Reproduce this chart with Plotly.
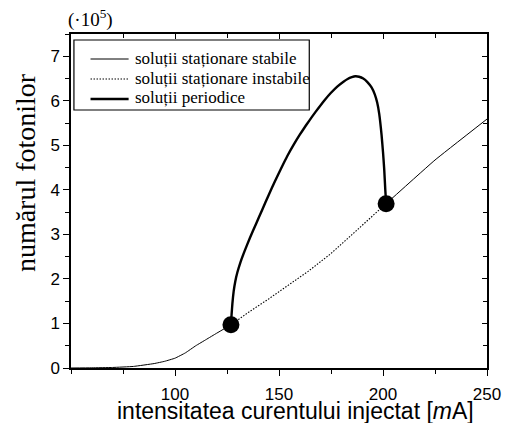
import plotly.graph_objects as go

# --- data (photon number, units of 1e5) ---
stable_low_x = [50, 60, 70, 80, 90, 95, 100, 105, 110, 115, 120, 126.9]
stable_low_y = [0, 0.004, 0.012, 0.035, 0.1, 0.15, 0.22, 0.34, 0.5, 0.64, 0.78, 0.97]
stable_high_x = [201.5, 225, 250]
stable_high_y = [3.69, 4.67, 5.59]

unstable_x = [126.9, 135, 145, 155, 164, 175, 184, 193, 201.5]
unstable_y = [0.97, 1.24, 1.55, 1.88, 2.17, 2.57, 2.95, 3.33, 3.69]

periodic_x = [126.9, 127.2, 127.6, 128.2, 129, 130, 131.5, 133.5, 136, 139, 142, 145,
              148, 151, 154, 157, 160, 163, 166, 169, 172, 175, 178, 181, 183, 185, 186.7,
              188.5, 190.5, 192.5, 194.5, 196, 197.2, 198.2, 199.3, 200, 200.6, 201.1, 201.5]
periodic_y = [0.97, 1.2, 1.45, 1.72, 1.95, 2.15, 2.38, 2.63, 2.92, 3.24, 3.56, 3.88,
              4.19, 4.48, 4.76, 5.01, 5.24, 5.45, 5.65, 5.84, 6.02, 6.18, 6.32, 6.43, 6.49, 6.53, 6.55,
              6.54, 6.5, 6.42, 6.3, 6.15, 5.96, 5.7, 5.24, 4.85, 4.45, 4.0, 3.69]

hopf_x = [126.9, 201.5]
hopf_y = [0.97, 3.69]

x_ticks = [100, 150, 200, 250]
y_ticks = [0, 1, 2, 3, 4, 5, 6, 7]

names = ["soluții staționare stabile", "soluții staționare instabile", "soluții periodice"]
legend_widths = [1.0, 1.1, 2.4]
legend_dashes = ["solid", "1.5px,1.5px", "solid"]

# plot-area pixel geometry helpers (for paper coordinates of the legend/labels)
L, R, T, B = 71, 497, 34, 368
def px(x):
    return (x - L) / (R - L)
def py(y):
    return (B - y) / (B - T)

fig = go.Figure()
fig.add_trace(go.Scatter(
    x=stable_low_x + [None] + stable_high_x,
    y=stable_low_y + [None] + stable_high_y,
    mode="lines", line=dict(color="black", width=1.0, shape="spline", smoothing=0.3),
    name=names[0], connectgaps=False, showlegend=False))
fig.add_trace(go.Scatter(
    x=unstable_x, y=unstable_y, mode="lines",
    line=dict(color="black", width=1.1, dash="1.5px,1.5px"),
    name=names[1], showlegend=False))
fig.add_trace(go.Scatter(
    x=periodic_x, y=periodic_y, mode="lines",
    line=dict(color="black", width=2.4, shape="spline", smoothing=0.4),
    name=names[2], showlegend=False))
fig.add_trace(go.Scatter(
    x=hopf_x, y=hopf_y, mode="markers",
    marker=dict(color="black", size=17), showlegend=False))
# dummy traces to activate mirrored inside-tick axes and the label axis
fig.add_trace(go.Scatter(x=[None], y=[None], xaxis="x2", yaxis="y2",
                         showlegend=False, hoverinfo="skip"))
fig.add_trace(go.Scatter(x=[None], y=[None], xaxis="x3", yaxis="y",
                         showlegend=False, hoverinfo="skip"))

# legend drawn as box + sample lines + text
shapes = [dict(type="rect", xref="paper", yref="paper",
               x0=px(74), x1=px(315), y0=py(110), y1=py(40),
               line=dict(color="black", width=1.2), fillcolor="white", layer="above")]
annotations = []
row_y = [59, 79, 99]
for i, name in enumerate(names):
    shapes.append(dict(type="line", xref="paper", yref="paper",
                       x0=px(91), x1=px(130), y0=py(row_y[i]), y1=py(row_y[i]),
                       line=dict(color="black", width=legend_widths[i], dash=legend_dashes[i]),
                       layer="above"))
    annotations.append(dict(text=name, xref="paper", yref="paper",
                            x=px(134), y=py(row_y[i] - 1), xanchor="left", yanchor="middle",
                            showarrow=False,
                            font=dict(family="Liberation Serif, Times New Roman", size=17,
                                      color="black")))

tickfont = dict(family="Liberation Sans, Arial", size=17, color="black")
fig.update_layout(
    width=513, height=423,
    margin=dict(l=L, r=513 - R, t=T, b=423 - B),
    paper_bgcolor="white", plot_bgcolor="white",
    showlegend=False,
    xaxis=dict(range=[50, 250], tickvals=x_ticks, ticks="outside", ticklen=6,
               tickwidth=1.2, tickcolor="black", showline=True, linecolor="black",
               linewidth=1.5, mirror=True, showgrid=False, zeroline=False,
               showticklabels=False,
               minor=dict(dtick=25, tick0=0, ticks="outside", ticklen=4,
                          tickcolor="black", tickwidth=1, showgrid=False)),
    xaxis3=dict(overlaying="x", side="bottom", range=[50, 250], tickvals=x_ticks,
                ticks="outside", ticklen=11, tickcolor="rgba(0,0,0,0)",
                showline=False, showgrid=False, zeroline=False, tickfont=tickfont),
    yaxis=dict(range=[0, 7.5], tickvals=y_ticks, ticks="outside", ticklen=6,
               tickwidth=1.2, tickcolor="black", showline=True, linecolor="black",
               linewidth=1.5, mirror=True, showgrid=False, zeroline=False,
               tickfont=tickfont,
               minor=dict(dtick=0.5, tick0=0, ticks="outside", ticklen=4,
                          tickcolor="black", tickwidth=1, showgrid=False)),
    xaxis2=dict(overlaying="x", side="top", range=[50, 250], tickvals=x_ticks,
                ticks="inside", ticklen=5, tickcolor="black", tickwidth=1,
                showticklabels=False, showgrid=False, zeroline=False, showline=False,
                minor=dict(dtick=25, tick0=0, ticks="inside", ticklen=4,
                           tickcolor="black", tickwidth=1, showgrid=False)),
    yaxis2=dict(overlaying="y", side="right", range=[0, 7.5], tickvals=y_ticks,
                ticks="inside", ticklen=5, tickcolor="black", tickwidth=1,
                showticklabels=False, showgrid=False, zeroline=False, showline=False,
                minor=dict(dtick=0.5, tick0=0, ticks="inside", ticklen=4,
                           tickcolor="black", tickwidth=1, showgrid=False)),
    shapes=shapes,
    annotations=annotations + [
        dict(text="intensitatea curentului injectat [<i>m</i>A]", xref="paper", yref="paper",
             x=px(300.5), y=py(411), xanchor="center", yanchor="middle",
             showarrow=False, font=dict(family="Liberation Sans, Arial", size=23, color="black")),
        dict(text="numărul fotonilor", xref="paper", yref="paper",
             x=px(24), y=py(173), xanchor="center", yanchor="middle",
             textangle=-90, showarrow=False,
             font=dict(family="Liberation Serif, Times New Roman", size=28, color="black")),
        dict(text="(·10<sup>5</sup>)", xref="paper", yref="paper",
             x=px(91), y=py(18), xanchor="center", yanchor="middle",
             showarrow=False,
             font=dict(family="Liberation Serif, Times New Roman", size=19, color="black")),
    ],
)

fig.write_html("out.html")
